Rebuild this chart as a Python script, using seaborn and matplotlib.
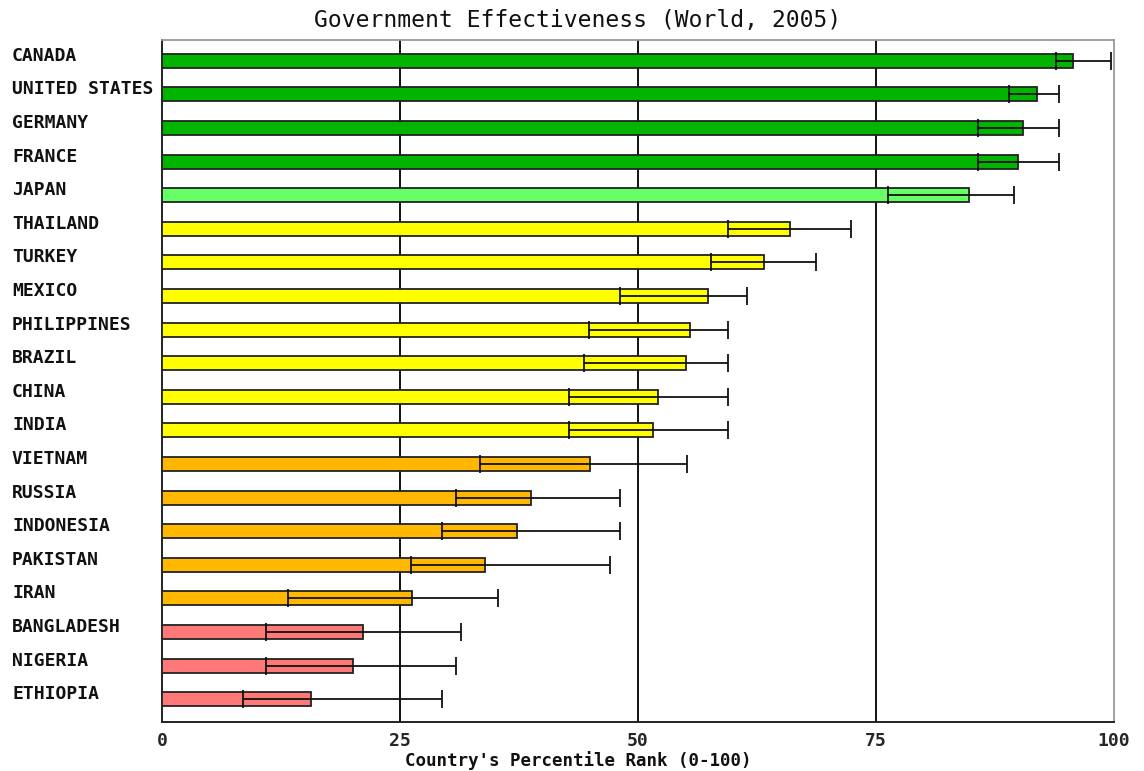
import matplotlib
matplotlib.use('Agg')
import matplotlib.pyplot as plt
import seaborn as sns
import pandas as pd

# Dados do gráfico
countries = ['CANADA', 'UNITED STATES', 'GERMANY', 'FRANCE', 'JAPAN', 'THAILAND',
             'TURKEY', 'MEXICO', 'PHILIPPINES', 'BRAZIL', 'CHINA', 'INDIA',
             'VIETNAM', 'RUSSIA', 'INDONESIA', 'PAKISTAN', 'IRAN', 'BANGLADESH',
             'NIGERIA', 'ETHIOPIA']
rank = [95.7, 91.9, 90.4, 89.9, 84.8, 66.0, 63.2, 57.4, 55.5, 55.0, 52.1, 51.6,
        45.0, 38.8, 37.3, 33.9, 26.3, 21.1, 20.1, 15.7]
low = [93.9, 89.0, 85.7, 85.7, 76.3, 59.5, 57.7, 48.1, 44.9, 44.3, 42.8, 42.8,
       33.4, 30.9, 29.4, 26.2, 13.2, 10.9, 10.9, 8.5]
high = [99.7, 94.2, 94.2, 94.2, 89.5, 72.4, 68.7, 61.4, 59.5, 59.5, 59.5, 59.5,
        55.1, 48.1, 48.1, 47.1, 35.3, 31.4, 30.9, 29.4]
group = ['top'] * 4 + ['high'] + ['mid'] * 7 + ['low'] * 5 + ['bottom'] * 3
group_colors = {'top': '#00B400', 'high': '#66FF66', 'mid': '#FFFF00',
                'low': '#FFB700', 'bottom': '#FF7878'}

df = pd.DataFrame({'Country': countries, 'Rank': rank, 'Low': low,
                   'High': high, 'Group': group})

sns.set_style('white')
plt.rcParams['font.family'] = ['DejaVu Sans Mono']

fig = plt.figure(figsize=(11.44, 7.71), dpi=100)
ax = fig.add_axes([162 / 1144, 1 - 722 / 771, 952 / 1144, 682 / 771])

sns.barplot(data=df, x='Rank', y='Country', hue='Group', palette=group_colors,
            orient='h', width=0.42, dodge=False, legend=False, saturation=1,
            edgecolor='#222222', linewidth=1.3, ax=ax, zorder=3)

# Intervalos (barras de erro)
ypos = range(len(df))
ax.errorbar(x=(df['Low'] + df['High']) / 2, y=list(ypos),
            xerr=(df['High'] - df['Low']) / 2, fmt='none', ecolor='#111111',
            elinewidth=1.3, capsize=6.5, capthick=1.3, zorder=4)

ax.set_xlim(0, 100)
ax.set_ylim(len(df) - 1 + 0.68, -0.62)
ax.set_xticks([0, 25, 50, 75, 100])
ax.set_xticklabels(['0', '25', '50', '75', '100'], fontsize=13, fontweight='bold')
ax.tick_params(axis='x', direction='out', length=5, width=1.3, color='#222222', pad=2)
for v in [25, 50, 75]:
    ax.axvline(v, color='#111111', lw=1.4, zorder=1)

# Rótulos dos países alinhados à esquerda
ax.set_yticks([])
ax.set_ylabel('')
for i, name in enumerate(countries):
    ax.text((12 - 162) / 952, i - 0.15, name, transform=ax.get_yaxis_transform(),
            ha='left', va='center', fontsize=13, fontweight='bold', color='#111111')

for side in ['top', 'right']:
    ax.spines[side].set_color('#999999')
    ax.spines[side].set_linewidth(1.3)
for side in ['left', 'bottom']:
    ax.spines[side].set_color('#222222')
    ax.spines[side].set_linewidth(1.4)

ax.set_xlabel('')
fig.text(578 / 1144, 1 - 761 / 771, "Country's Percentile Rank (0-100)",
         ha='center', va='center', fontsize=12.6, fontweight='bold', color='#111111')
fig.text(578 / 1144, 1 - 21 / 771, 'Government Effectiveness (World, 2005)',
         ha='center', va='center', fontsize=16.6, color='#111111')

fig.savefig('out.png', dpi=100)
